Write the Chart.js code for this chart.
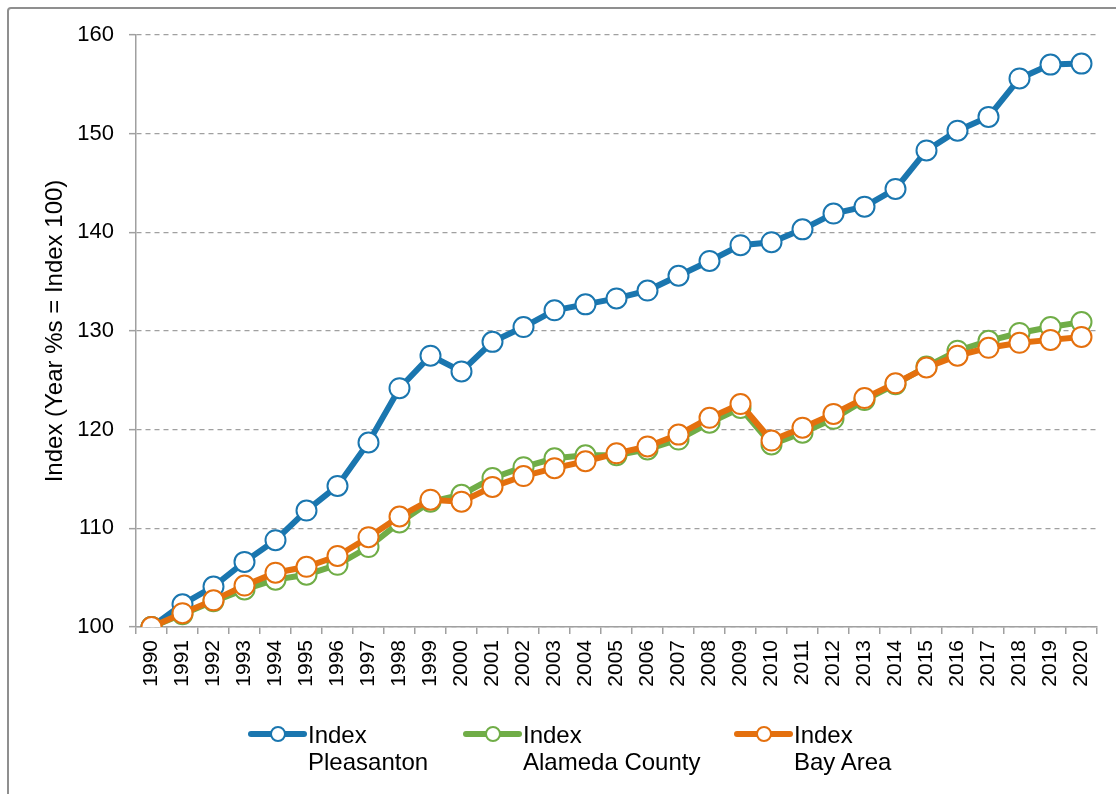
<!DOCTYPE html>
<html>
<head>
<meta charset="utf-8">
<script src="https://cdn.jsdelivr.net/npm/chart.js@4/dist/chart.umd.min.js"></script>
<style>
  html, body { margin: 0; padding: 0; background: #fff; }
  #wrap { position: relative; width: 1116px; height: 794px; overflow: hidden; font-family: "Liberation Sans", Arial, sans-serif; }
  #frame { position: absolute; left: 7px; top: 7px; width: 1300px; height: 1000px; border: 2px solid #8f8f8f; border-radius: 4px; box-sizing: border-box; }
  canvas { position: absolute; left: 0; top: 0; }
  .leg { position: absolute; top: 721px; font-size: 24px; line-height: 27px; color: #000; }
  .legsym { position: absolute; top: 724px; }
</style>
</head>
<body>
<div id="wrap">
  <div id="frame"></div>
  <canvas id="c" width="1116" height="794"></canvas>
  <div id="legend"></div>
</div>
<script>
const years = ["1990","1991","1992","1993","1994","1995","1996","1997","1998","1999","2000","2001","2002","2003","2004","2005","2006","2007","2008","2009","2010","2011","2012","2013","2014","2015","2016","2017","2018","2019","2020"];
const pleasanton = [100,102.3,104.1,106.6,108.8,111.8,114.3,118.7,124.2,127.5,125.9,128.9,130.4,132.1,132.7,133.3,134.1,135.6,137.1,138.7,139.0,140.3,141.9,142.6,144.4,148.3,150.3,151.7,155.6,157.0,157.1];
const alameda = [100,101.3,102.6,103.8,104.8,105.3,106.3,108.1,110.6,112.7,113.4,115.1,116.2,117.1,117.4,117.4,118.0,119.0,120.7,122.2,118.5,119.7,121.1,123.0,124.6,126.4,128.0,129.0,129.8,130.4,130.9];
const bayArea = [100,101.4,102.7,104.2,105.5,106.1,107.2,109.1,111.2,112.9,112.7,114.2,115.3,116.1,116.8,117.6,118.3,119.5,121.2,122.6,118.9,120.2,121.6,123.2,124.7,126.3,127.5,128.3,128.8,129.1,129.4];
const seriesNames = ["Index\nPleasanton", "Index\nAlameda County", "Index\nBay Area"];
const yTicks = [100, 110, 120, 130, 140, 150, 160];
const yTitle = "Index (Year %s = Index 100)";

const colors = ["#1a76af", "#70ad47", "#e4700e"];
const FONT = "'Liberation Sans', Arial, sans-serif";

function ds(label, data, color, order) {
  return {
    label, data, order,
    borderColor: color, backgroundColor: color,
    borderWidth: 6, tension: 0,
    pointRadius: 10, pointHoverRadius: 10,
    pointBorderWidth: 2, pointBackgroundColor: "#ffffff", pointBorderColor: color
  };
}

new Chart(document.getElementById("c"), {
  type: "line",
  data: {
    labels: years,
    datasets: [
      ds(seriesNames[0], pleasanton, colors[0], 3),
      ds(seriesNames[1], alameda, colors[1], 2),
      ds(seriesNames[2], bayArea, colors[2], 1)
    ]
  },
  options: {
    responsive: false, animation: false, devicePixelRatio: 1,
    events: [],
    layout: { padding: { top: 35, right: 19, bottom: 0, left: 0 } },
    plugins: { legend: { display: false }, tooltip: { enabled: false } },
    scales: {
      x: {
        offset: true,
        grid: { display: true, drawOnChartArea: false, drawTicks: true, tickLength: 7, offset: true, color: "#a0a0a0", lineWidth: 1.5, tickBorderDash: [] },
        border: { display: true, color: "#a0a0a0", width: 1.5 },
        ticks: { autoSkip: false, maxRotation: 90, minRotation: 90, padding: 6, color: "#000", font: { family: FONT, size: 21 } },
        afterFit: (s) => { s.height = 167; }
      },
      y: {
        min: yTicks[0], max: yTicks[yTicks.length - 1],
        afterBuildTicks: (s) => { s.ticks = yTicks.map(v => ({ value: v })); },
        grid: { color: "#a0a0a0", lineWidth: 1.3, tickLength: 7, tickBorderDash: [], tickColor: "#a0a0a0", tickWidth: 1.5 },
        border: { display: true, color: "#a0a0a0", width: 1.5, dash: [5, 4] },
        ticks: { padding: 15, color: "#000", font: { family: FONT, size: 22 } },
        title: { display: true, text: yTitle, color: "#000", font: { family: FONT, size: 24 }, padding: { top: 41, bottom: 0 } },
        afterFit: (s) => { s.width = 136; }
      }
    }
  }
});

// HTML legend
const legendPos = [{ x: 248, t: 308 }, { x: 463, t: 523 }, { x: 734, t: 794 }];
const leg = document.getElementById("legend");
seriesNames.forEach((name, i) => {
  const p = legendPos[i];
  const svg = document.createElementNS("http://www.w3.org/2000/svg", "svg");
  svg.setAttribute("width", "62"); svg.setAttribute("height", "20");
  svg.setAttribute("class", "legsym");
  svg.style.left = p.x + "px";
  svg.innerHTML = `<line x1="3" y1="10" x2="56" y2="10" stroke="${colors[i]}" stroke-width="6" stroke-linecap="round"/>` +
    `<circle cx="30" cy="10" r="7" fill="#fff" stroke="${colors[i]}" stroke-width="2"/>`;
  leg.appendChild(svg);
  const d = document.createElement("div");
  d.className = "leg";
  d.style.left = p.t + "px";
  d.innerHTML = name.split("\n").join("<br>");
  leg.appendChild(d);
});
</script>
</body>
</html>
